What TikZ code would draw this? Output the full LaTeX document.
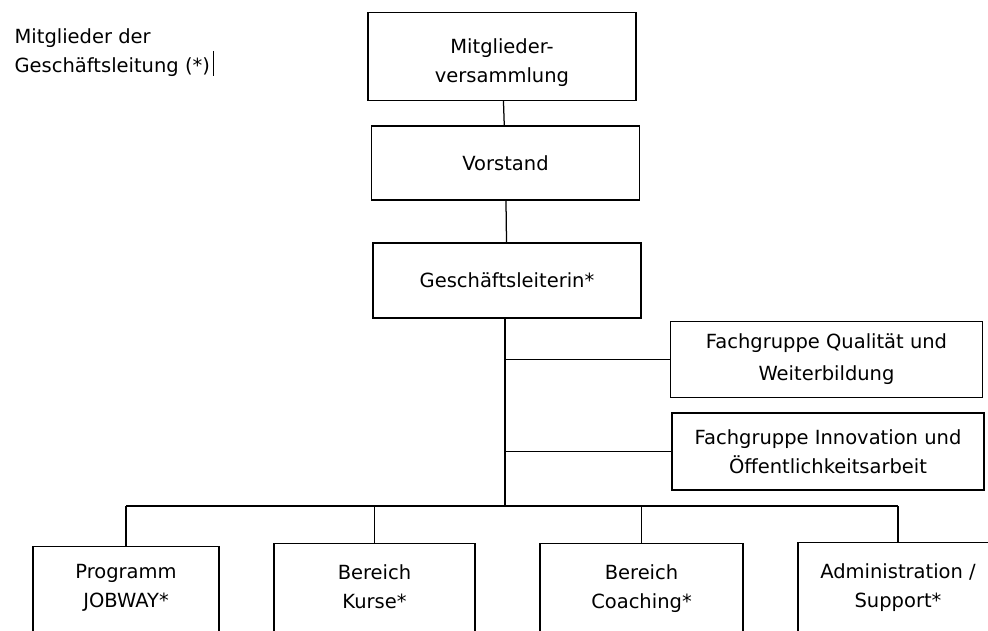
\documentclass[tikz,border=0pt]{standalone}
\usepackage{fontspec}
\setmainfont{DejaVu Sans}
\usetikzlibrary{positioning}

\begin{document}
\begin{tikzpicture}
  [x=1pt, y=-1pt, line width=1.25pt, nodes={font=\fontsize{19.5}{29}\selectfont, align=center, text=black}]
  \tikzset{box/.style={draw, rectangle, inner sep=0pt, minimum width=268pt, minimum height=75pt}}
  \tikzset{group/.style={box, minimum width=312pt, minimum height=76pt}}
  \tikzset{dept/.style={box, anchor=north, minimum height=130pt}}
  \tikzset{depttext/.style={inner sep=0pt, anchor=north}}

  \path[use as bounding box, clip] (0,0) rectangle (988,631);

  % note top left
  \node[anchor=north west, inner sep=0pt, align=left] (note) at (14,28) {Mitglieder der\\Geschäftsleitung (*)};
  \draw[line width=1pt] (213,51) -- (213,76);

  % top of the chart
  \node[box, minimum height=88pt] (mv) at (502,56.5) {\rule{0pt}{27pt}Mitglieder-\\versammlung};
  \node[box, minimum height=74pt] (vs) at (505.5,163) {Vorstand};
  \node[box] (gl) at (507,280.5) {Geschäftsleiterin*};

  % Fachgruppen
  \node[group] (fq) at (826.5,359.5) {Fachgruppe Qualität und\\[3pt]Weiterbildung};
  \node[group, minimum height=77pt] (fi) at (828,451.5) {Fachgruppe Innovation und\\Öffentlichkeitsarbeit};

  % Bereiche
  \node[dept, minimum width=186pt] (pj) at (126,546) {};
  \node[dept, minimum width=201pt] (bk) at (374.5,543) {};
  \node[dept, minimum width=203pt] (bc) at (641.5,543) {};
  \node[dept, minimum width=200pt] (ad) at (898,542) {};
  \node[depttext, below=18pt of pj.north] (pjt) {Programm\\JOBWAY*};
  \node[depttext, below=21pt of bk.north] (bkt) {Bereich\\Kurse*};
  \node[depttext, below=21pt of bc.north] (bct) {Bereich\\Coaching*};
  \node[depttext, below=21pt of ad.north] (adt) {Administration /\\Support*};

  \coordinate (bar) at (505,506);

  % Mitgliederversammlung
  \draw (mv) -- (vs);
  % Vorstand
  \draw (vs) -- (gl);
  % Geschaeftsleiterin
  \draw (gl.south -| bar) -- (bar);
    \draw (fq.west -| bar) -- (fq.west);
    \draw (fi.west -| bar) -- (fi.west);

  % Bereiche
  \draw (pj.north |- bar) -- (ad.north |- bar);
    \draw (pj.north |- bar) -- (pj.north);
    \draw (bk.north |- bar) -- (bk.north);
    \draw (bc.north |- bar) -- (bc.north);
    \draw (ad.north |- bar) -- (ad.north);
\end{tikzpicture}
\end{document}
